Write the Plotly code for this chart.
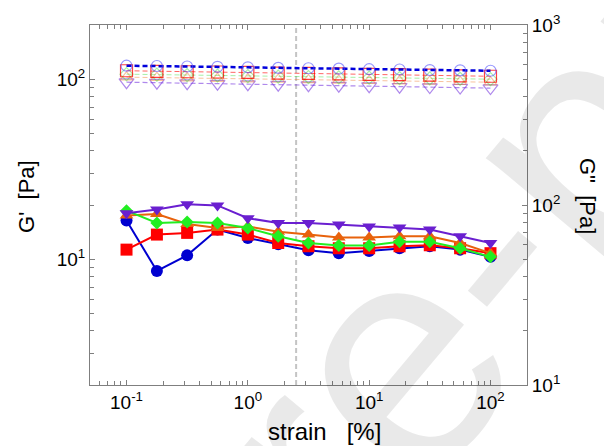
import plotly.graph_objects as go

# ---------------- data ----------------
strain = [0.1, 0.178, 0.316, 0.562, 1.0, 1.78, 3.16, 5.62, 10.0, 17.8, 31.6, 56.2, 100.0]

# G' (left axis, filled markers)
gp_blue = [16.4, 8.6, 10.5, 14.6, 13.1, 12.1, 11.2, 10.8, 11.1, 11.5, 11.8, 11.3, 10.3]
gp_red = [11.3, 13.7, 14.0, 14.6, 13.7, 12.3, 11.8, 11.5, 11.5, 11.8, 11.95, 11.5, 10.8]
gp_orange = [17.5, 17.8, 15.7, 14.9, 15.2, 14.2, 13.7, 13.2, 13.2, 13.4, 13.4, 12.3, 10.8]
gp_green = [18.6, 15.9, 16.1, 15.9, 14.9, 13.4, 12.3, 11.9, 11.9, 12.5, 12.5, 11.5, 10.3]
gp_purple = [18.0, 18.9, 20.2, 19.9, 16.9, 15.9, 15.9, 15.6, 15.2, 15.0, 14.6, 13.4, 12.3]

# G'' (right axis, open markers)
gpp_blue = [594, 592, 588, 586, 582, 578, 575, 572, 568, 566, 562, 560, 557]
gpp_red = [557, 553, 550, 548, 545, 540, 538, 535, 532, 530, 526, 522, 519]
gpp_green = [533, 530, 527, 524, 520, 517, 514, 512, 510, 507, 505, 502, 500]
gpp_orange = [513, 510, 507, 504, 501, 498, 495, 492, 490, 488, 486, 484, 481]
gpp_purple = [481, 478, 475, 472, 469, 466, 463, 460, 457, 454, 452, 449, 446]

critical_strain = 2.5

x_major = [0.1, 1, 10, 100]
x_major_text = ["10<sup>-1</sup>", "10<sup>0</sup>", "10<sup>1</sup>", "10<sup>2</sup>"]
y1_major = [10, 100]
y1_major_text = ["10<sup>1</sup>", "10<sup>2</sup>"]
y2_major = [10, 100, 1000]
y2_major_text = ["10<sup>1</sup>", "10<sup>2</sup>", "10<sup>3</sup>"]

watermark = "Pre-proof"


def minor_ticks(lo_exp, hi_exp):
    vals = []
    for e in range(lo_exp, hi_exp):
        for m in range(2, 10):
            vals.append(m * 10 ** e)
    return vals


FONT = "Liberation Sans, Arial, sans-serif"
AXIS_GREY = "#7f7f7f"

fig = go.Figure()

# reference line at the critical strain
fig.add_trace(go.Scatter(x=[critical_strain, critical_strain], y=[2, 200], mode="lines",
                         line=dict(color="#c4c4c4", width=2, dash="5px,3px"),
                         showlegend=False, hoverinfo="skip"))

# G'' open markers (right axis)
open_series = [
    (gpp_purple, "rgba(110,40,220,0.55)", "triangle-down-open", 13, "rgba(110,40,220,0.55)", 1.2),
    (gpp_orange, "rgba(240,120,40,0.45)", "triangle-up-open", 11, "rgba(240,120,40,0.45)", 1.0),
    (gpp_green, "rgba(60,220,60,0.45)", "diamond-open", 10, "rgba(60,220,60,0.45)", 1.0),
    (gpp_red, "rgba(255,0,0,0.75)", "square-open", 12, "rgba(255,0,0,0.6)", 1.0),
    (gpp_blue, "rgba(80,80,255,0.6)", "circle-open", 11, "rgba(0,0,220,1)", 2.5),
]
for vals, mcol, sym, size, lcol, lw in open_series:
    fig.add_trace(go.Scatter(x=strain, y=vals, yaxis="y2", mode="lines+markers",
                             line=dict(color=lcol, width=lw, dash="5px,3px"),
                             marker=dict(symbol=sym, size=size, color=mcol, line=dict(width=1.2, color=mcol)),
                             showlegend=False))

# G' filled markers (left axis)
filled_series = [
    (gp_blue, "#0000d0", "circle", 12),
    (gp_red, "#ff0000", "square", 12),
    (gp_orange, "#e8620c", "triangle-up", 12),
    (gp_green, "#22ee22", "diamond", 10),
    (gp_purple, "#6a1fd0", "triangle-down", 12),
]
for vals, col, sym, size in filled_series:
    fig.add_trace(go.Scatter(x=strain, y=vals, mode="lines+markers",
                             line=dict(color=col, width=2),
                             marker=dict(symbol=sym, size=size, color=col, line=dict(width=0)),
                             showlegend=False))

minor_style = dict(ticks="inside", ticklen=4, tickcolor=AXIS_GREY, showgrid=False)

fig.update_layout(
    width=604, height=446,
    margin=dict(l=90, r=77, t=23, b=61),
    paper_bgcolor="white", plot_bgcolor="white",
    font=dict(family=FONT, color="black"),
    xaxis=dict(type="log", range=[-1.30103, 2.30103], tickmode="array", tickvals=x_major, ticktext=x_major_text,
               ticks="inside", ticklen=5, tickcolor=AXIS_GREY, showline=True, linecolor=AXIS_GREY,
               linewidth=1, mirror="ticks", showgrid=False, zeroline=False,
               minor=dict(tickmode="array", tickvals=minor_ticks(-2, 3), **minor_style),
               tickfont=dict(size=19, family=FONT, color="black")),
    yaxis=dict(type="log", range=[0.30103, 2.30103], tickmode="array", tickvals=y1_major, ticktext=y1_major_text,
               ticks="inside", ticklen=5, tickcolor=AXIS_GREY, showline=True, linecolor=AXIS_GREY,
               linewidth=1, showgrid=False, zeroline=False,
               minor=dict(tickmode="array", tickvals=minor_ticks(0, 3), **minor_style),
               tickfont=dict(size=19, family=FONT, color="black")),
    yaxis2=dict(type="log", range=[1, 3], overlaying="y", side="right", tickmode="array",
                tickvals=y2_major, ticktext=y2_major_text, ticks="inside", ticklen=5, tickcolor=AXIS_GREY,
                showline=True, linecolor=AXIS_GREY, linewidth=1, showgrid=False, zeroline=False,
                minor=dict(tickmode="array", tickvals=minor_ticks(1, 3), **minor_style),
                tickfont=dict(size=19, family=FONT, color="black")),
    annotations=[
        dict(text=watermark, xref="paper", yref="paper", x=1.071, y=0.613, textangle=-50,
             showarrow=False, font=dict(size=320, family=FONT, color="rgba(0,0,0,0.085)"),
             xanchor="center", yanchor="middle"),
        dict(text="strain   [%]", xref="paper", yref="paper", x=0.5355, y=-0.13,
             showarrow=False, font=dict(size=24, family=FONT, color="black"), xanchor="center", yanchor="middle"),
        dict(text="G'  [Pa]", xref="paper", yref="paper", x=-0.1465, y=0.525, textangle=-90,
             showarrow=False, font=dict(size=22, family=FONT, color="black"), xanchor="center", yanchor="middle"),
        dict(text='G"  [Pa]', xref="paper", yref="paper", x=1.1396, y=0.525, textangle=90,
             showarrow=False, font=dict(size=22, family=FONT, color="black"), xanchor="center", yanchor="middle"),
    ],
)

# remove the default 8px page margin so the figure sits at the window's top-left corner
fig.write_html("out.html", config={"displayModeBar": False},
               post_script="document.body.style.margin='0';document.body.style.overflow='hidden';")
